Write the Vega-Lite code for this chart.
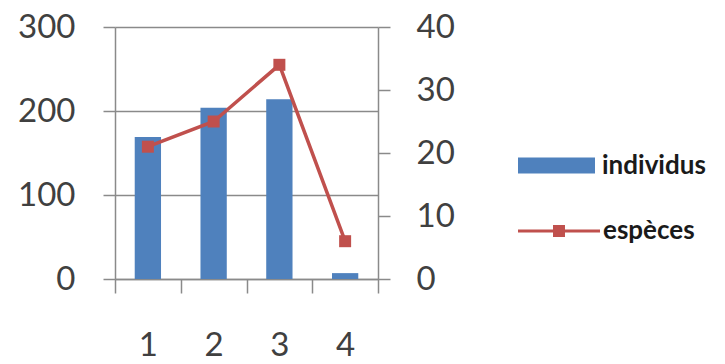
{
  "$schema": "https://vega.github.io/schema/vega-lite/v6.json",
  "autosize": {"type": "none"},
  "padding": {"left": 115, "top": 27, "right": 347, "bottom": 85},
  "width": 263,
  "height": 252,
  "background": "white",
  "config": {
    "view": {"stroke": null},
    "font": "Lato",
    "axis": {
      "labelFont": "Lato",
      "labelFontSize": 33,
      "labelColor": "#404040",
      "domainColor": "#8a8a8a",
      "domainWidth": 1.5,
      "tickColor": "#8a8a8a",
      "tickWidth": 1.5,
      "gridColor": "#8a8a8a",
      "gridWidth": 1.5,
      "title": null
    },
    "legend": {
      "labelFont": "Lato",
      "labelFontSize": 26,
      "labelFontWeight": "bold",
      "labelColor": "#1a1a1a",
      "padding": 0,
      "title": null
    }
  },
  "data": {
    "values": [
      {"station": "1", "individus": 169, "especes": 21},
      {"station": "2", "individus": 204, "especes": 25},
      {"station": "3", "individus": 214, "especes": 34},
      {"station": "4", "individus": 7, "especes": 6}
    ]
  },
  "encoding": {
    "x": {
      "field": "station",
      "type": "ordinal",
      "scale": {"paddingInner": 0, "paddingOuter": 0},
      "axis": {
        "labelAngle": 0,
        "tickBand": "extent",
        "tickSize": 14,
        "labelPadding": 36,
        "domain": true
      }
    }
  },
  "layer": [
    {
      "mark": {"type": "bar", "width": {"band": 0.4}},
      "encoding": {
        "y": {
          "field": "individus",
          "type": "quantitative",
          "scale": {"domain": [0, 300], "nice": false},
          "axis": {
            "orient": "left",
            "values": [0, 100, 200, 300],
            "grid": true,
            "tickSize": 12,
            "labelPadding": 28
          }
        },
        "color": {
          "datum": "individus",
          "scale": {"range": ["#4f81bd"]},
          "legend": {
            "orient": "none",
            "legendX": 403,
            "legendY": 100,
            "symbolType": "M-1,-0.208H1V0.208H-1Z",
            "symbolSize": 5929,
            "symbolStrokeWidth": 0,
            "labelOffset": 7
          }
        }
      }
    },
    {
      "layer": [
        {
          "mark": {"type": "line", "color": "#c0504d", "strokeWidth": 3.5},
          "encoding": {
            "y": {
              "field": "especes",
              "type": "quantitative",
              "scale": {"domain": [0, 40], "nice": false},
              "axis": {
                "orient": "right",
                "values": [0, 10, 20, 30, 40],
                "grid": false,
                "tickSize": 12,
                "labelPadding": 26
              }
            }
          }
        },
        {
          "mark": {"type": "point", "shape": "square", "filled": true, "size": 144, "opacity": 1},
          "encoding": {
            "y": {"field": "especes", "type": "quantitative"},
            "color": {
              "datum": "espèces",
              "scale": {"range": ["#c0504d"]},
              "legend": {
                "orient": "none",
                "legendX": 403,
                "legendY": 163,
                "symbolType": "M-1,-0.037H1V0.037H-1Z M-0.146,-0.146H0.146V0.146H-0.146Z",
                "symbolSize": 6724,
                "symbolStrokeWidth": 0,
                "symbolOpacity": 1,
                "labelOffset": 3
              }
            }
          }
        }
      ]
    }
  ],
  "resolve": {"scale": {"y": "independent", "color": "independent"}}
}
